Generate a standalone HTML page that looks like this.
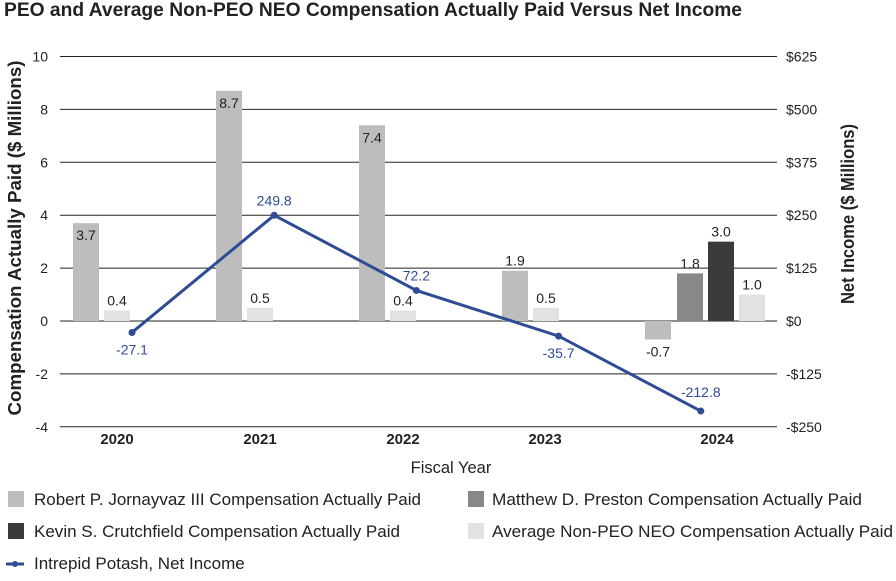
<!DOCTYPE html>
<html><head><meta charset="utf-8"><style>
body{margin:0;background:#fff;width:896px;height:576px;overflow:hidden;font-family:"Liberation Sans",Arial,sans-serif}
svg text{font-family:"Liberation Sans",Arial,sans-serif}
</style></head><body>
<svg id="c" width="896" height="576">
<text x="4" y="16" font-size="19" font-weight="bold" fill="#222" textLength="738" lengthAdjust="spacingAndGlyphs">PEO and Average Non-PEO NEO Compensation Actually Paid Versus Net Income</text>
<g id="grid"></g><g id="bars"></g><g id="line"></g><g id="axes"></g>
<text transform="translate(21,238) rotate(-90)" text-anchor="middle" font-size="18.5" font-weight="bold" fill="#222" textLength="355" lengthAdjust="spacingAndGlyphs">Compensation Actually Paid ($ Millions)</text>
<text transform="translate(854,214) rotate(-90)" text-anchor="middle" font-size="18.5" font-weight="bold" fill="#222" textLength="180" lengthAdjust="spacingAndGlyphs">Net Income ($ Millions)</text>
<text x="451" y="473" text-anchor="middle" font-size="16.5" fill="#222">Fiscal Year</text>
<g font-size="17" fill="#222">
<rect x="8" y="491" width="16" height="16" fill="#bdbdbd"/>
<text x="34" y="505" textLength="387" lengthAdjust="spacingAndGlyphs">Robert P. Jornayvaz III Compensation Actually Paid</text>
<rect x="468" y="491" width="16" height="16" fill="#888"/>
<text x="492" y="505" textLength="370" lengthAdjust="spacingAndGlyphs">Matthew D. Preston Compensation Actually Paid</text>
<rect x="8" y="523" width="16" height="16" fill="#3b3b3b"/>
<text x="34" y="537" textLength="366" lengthAdjust="spacingAndGlyphs">Kevin S. Crutchfield Compensation Actually Paid</text>
<rect x="468" y="523" width="16" height="16" fill="#e2e2e2"/>
<text x="492" y="537" textLength="401" lengthAdjust="spacingAndGlyphs">Average Non-PEO NEO Compensation Actually Paid</text>
<line x1="6" y1="564" x2="24" y2="564" stroke="#2f4b94" stroke-width="3"/>
<circle cx="15" cy="564" r="3" fill="#2f4b94"/>
<text x="34" y="569">Intrepid Potash, Net Income</text>
</g>
</svg>
<script>
const years=["2020","2021","2022","2023","2024"];
const robert=[3.7,8.7,7.4,1.9,-0.7];
const preston=[null,null,null,null,1.8];
const crutch=[null,null,null,null,3.0];
const average=[0.4,0.5,0.4,0.5,1.0];
const netIncome=[-27.1,249.8,72.2,-35.7,-212.8];
const leftTicks=[10,8,6,4,2,0,-2,-4];
const rightTicks=["$625","$500","$375","$250","$125","$0","-$125","-$250"];
const NS="http://www.w3.org/2000/svg";
const y=v=>321-v*26.45;
const yr=v=>321-v*26.45/62.5;
const bx=i=>73+143*i;
const lx=i=>132+142.2*i;
function mk(t,a,p){const e=document.createElementNS(NS,t);for(const k in a)e.setAttribute(k,a[k]);p.appendChild(e);return e;}
const grid=document.getElementById('grid'),bars=document.getElementById('bars'),line=document.getElementById('line'),axes=document.getElementById('axes');
leftTicks.forEach((t,k)=>{
 const gl=mk('line',{x1:60,x2:777,y1:y(t),y2:y(t),stroke:'#222','stroke-width':1},grid);
 
 
 const tl=mk('text',{x:48,y:y(t)+5,'text-anchor':'end','font-size':14,fill:'#222'},axes);tl.textContent=t;
 
 
 const tr=mk('text',{x:786,y:y(t)+5,'font-size':14,fill:'#222'},axes);tr.textContent=rightTicks[k];
 
 
});
const xlab=[117,260,403,545,717];
years.forEach((yy,i)=>{
 const t=mk('text',{x:xlab[i],y:444,'text-anchor':'middle','font-size':15,'font-weight':'bold',fill:'#222'},axes);t.textContent=yy;
 
 
});
function bar(v,x,col,name){
 if(v==null)return;
 const top=Math.min(y(v),y(0)),h=Math.abs(y(v)-y(0));
 const r=mk('rect',{x:x,y:top,width:26,height:h,fill:col},bars);
 
 
 const lab=mk('text',{'font-size':14,fill:'#222','text-anchor':'middle'},bars);
 lab.textContent=v.toFixed(1);
 
 
 if(v<0){lab.setAttribute('x',x+13);lab.setAttribute('y',y(v)+17);}
 else if(v>3.5){lab.setAttribute('x',x+13);lab.setAttribute('y',y(v)+17);}
 else{lab.setAttribute('x',x+13);lab.setAttribute('y',y(v)-5);}
}
years.forEach((yy,i)=>{
 const b=bx(i);
 bar(robert[i],b,'#bdbdbd','bar-robert-'+yy);
 bar(preston[i],b+32,'#888888','bar-preston-'+yy);
 bar(crutch[i],b+63,'#3b3b3b','bar-crutchfield-'+yy);
 bar(average[i],b+(preston[i]==null?31:94),'#e2e2e2','bar-average-'+yy);
});
const pts=netIncome.map((v,i)=>lx(i)+','+yr(v)).join(' ');
const pl=mk('polyline',{points:pts,fill:'none',stroke:'#2f4b94','stroke-width':3},line);


netIncome.forEach((v,i)=>{
 const c=mk('circle',{cx:lx(i),cy:yr(v),r:3.5,fill:'#2f4b94'},line);
 
 
 const t=mk('text',{x:lx(i),y:v>=0?yr(v)-10:yr(v)+22,'text-anchor':'middle','font-size':14,fill:'#2f4b94'},line);
 if(i==4){t.setAttribute('y',yr(v)-14);}
 t.textContent=v.toFixed(1);
 
 
});
</script>
</body></html>
